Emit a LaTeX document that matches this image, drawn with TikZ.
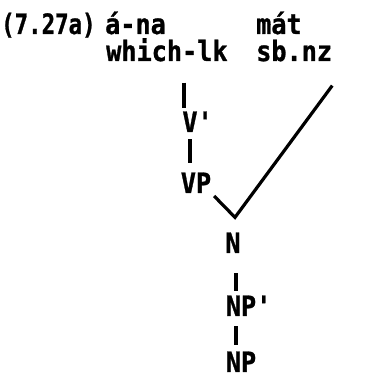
\documentclass[tikz,border=0pt]{standalone}
\usepackage{fontspec}
\newfontfamily\tw{DejaVu Sans Mono}[FakeStretch=0.9, FakeBold=1]
\newfontfamily\twn{DejaVu Sans Mono}[FakeStretch=0.8, FakeBold=1]
\usetikzlibrary{positioning, calc}

\begin{document}
\begin{tikzpicture}[x=1pt, y=-1pt,
    every node/.style={font=\tw\bfseries\fontsize{28}{32}\selectfont, inner sep=0pt},
    cat/.style={anchor=base},
    word/.style={anchor=base west},
    bar/.style={line width=3.2pt}]
  \useasboundingbox (0,0) rectangle (384,379);
  % words and glosses
  \node[word, font=\twn\bfseries\fontsize{28}{32}\selectfont] (lab) at (1,34) {(7.27a)};
  \node[word] (ana)  at (105,34) {á-na};
  \node[word] (wh)   at (106,61) {which-lk};
  \node[word] (mat)  at (256,34) {mát};
  \node[word] (sbnz) at (256,61) {sb.nz};
  % categories
  \node[cat] (V)   at (190,132) {V\rlap{'}};
  \node[cat] (VP)  at (196,193) {VP};
  \node[cat] (N)   at (233,253) {N};
  \node[cat] (NPb) at (241,316) {NP\rlap{'}};
  \node[cat] (NP)  at (241,372) {NP};
  \coordinate (apex) at ($(N.north)+(2,-15)$);
  \coordinate (tip) at ($(sbnz.south east)+(0,24)$);
  % connectors
  \draw[bar, shorten <=21pt, shorten >=3pt] ($(V.north |- wh.south)+(-6,0)$) -- ($(V.north)+(-6,0)$);
  \draw[bar, shorten <=7pt, shorten >=9pt] (V.south) -- (V.south |- VP.north);
  \draw[bar, shorten <=4pt] (VP.south east) -- (apex) -- (tip);
  \draw[bar, shorten <=20pt, shorten >=4pt] ($(N.south)+(3,0)$) -- ($(N.south |- NPb.north)+(3,0)$);
  \draw[bar, shorten <=10pt, shorten >=6pt] ($(N.south |- NPb.south)+(3,0)$) -- ($(N.south |- NP.north)+(3,0)$);
\end{tikzpicture}
\end{document}
